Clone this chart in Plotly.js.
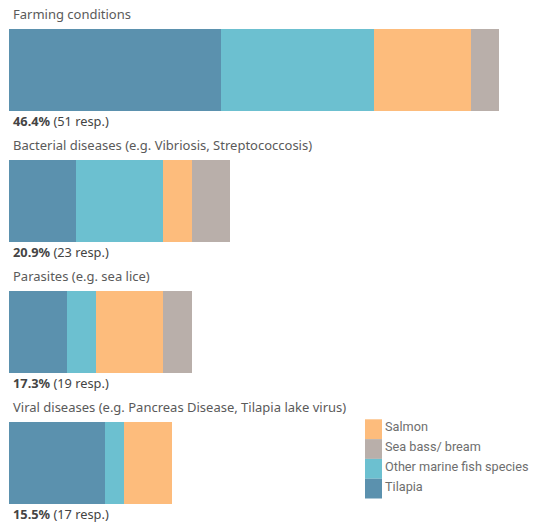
<!DOCTYPE html>
<html>
<head>
<meta charset="utf-8">
<script src="https://cdn.plot.ly/plotly-3.0.1.min.js"></script>
<style>html,body{margin:0;padding:0;background:#fff;}#chart{width:533px;height:522px;}</style>
</head>
<body>
<div id="chart"></div>
<script>
// Data
var categories = ["Farming conditions", "Bacterial diseases (e.g. Vibriosis, Streptococcosis)", "Parasites (e.g. sea lice)", "Viral diseases (e.g. Pancreas Disease, Tilapia lake virus)"];
var seriesNames = ["Tilapia", "Other marine fish species", "Salmon", "Sea bass/ bream"];
var tilapia = [22, 7, 6, 10];
var otherMarine = [16, 9, 3, 2];
var salmon = [10, 3, 7, 5];
var seaBass = [3, 4, 3, 0];
var responses = [51, 23, 19, 17];
var percentLabels = ["46.4%", "20.9%", "17.3%", "15.5%"];
var legendOrder = ["Salmon", "Sea bass/ bream", "Other marine fish species", "Tilapia"];

var colors = {
  "Tilapia": "#5b91ae",
  "Other marine fish species": "#6cc0d0",
  "Salmon": "#fdbc7c",
  "Sea bass/ bream": "#b9afaa"
};
var seriesValues = [tilapia, otherMarine, salmon, seaBass];
var yIdx = categories.map(function(_, i){ return i; });

var traces = seriesNames.map(function(name, k){
  return {
    type: "bar", orientation: "h", name: name,
    x: seriesValues[k], y: yIdx,
    marker: {color: colors[name], line: {width: 0}},
    hoverinfo: "x+name", showlegend: false
  };
});

var annotations = [];
var font = "Noto Sans, Open Sans, sans-serif";
categories.forEach(function(c, i){
  annotations.push({
    xref: "x", yref: "y", x: 0, y: i, xanchor: "left", yanchor: "middle",
    xshift: 2, yshift: 56, showarrow: false, text: c,
    font: {family: font, size: 13, color: "#5a5a5a"}
  });
  annotations.push({
    xref: "x", yref: "y", x: 0, y: i, xanchor: "left", yanchor: "middle",
    xshift: 2, yshift: -51, showarrow: false,
    text: "<b>" + percentLabels[i] + "</b> (" + responses[i] + " resp.)",
    font: {family: font, size: 12.8, color: "#444"}
  });
});

// custom legend (paper coordinates)
var W = 533, H = 522;
var shapes = [];
var legTop = 419.3, legH = 19.8, legX0 = 365, legX1 = 382;
legendOrder.forEach(function(name, j){
  var y0 = legTop + j * legH, y1 = y0 + legH;
  shapes.push({
    type: "rect", xref: "paper", yref: "paper",
    x0: legX0 / W, x1: legX1 / W, y0: 1 - y1 / H, y1: 1 - y0 / H,
    fillcolor: colors[name], line: {width: 0}
  });
  annotations.push({
    xref: "paper", yref: "paper", x: (legX1 + 0.5) / W, y: 1 - (y0 + 7.5) / H,
    xanchor: "left", yanchor: "middle", showarrow: false, text: name,
    font: {family: "Roboto, sans-serif", size: 12.7, color: "#6e6e6e"}
  });
});

var layout = {
  width: W, height: H,
  margin: {l: 0, r: 0, t: 0, b: 0, pad: 0},
  paper_bgcolor: "#fff", plot_bgcolor: "#fff",
  barmode: "stack", bargap: 0.374,
  showlegend: false,
  xaxis: {range: [-0.937, 54.5], visible: false, fixedrange: true},
  yaxis: {range: [3.447, -0.534], visible: false, fixedrange: true},
  annotations: annotations,
  shapes: shapes
};

Plotly.newPlot("chart", traces, layout, {displayModeBar: false, staticPlot: true});
</script>
</body>
</html>
